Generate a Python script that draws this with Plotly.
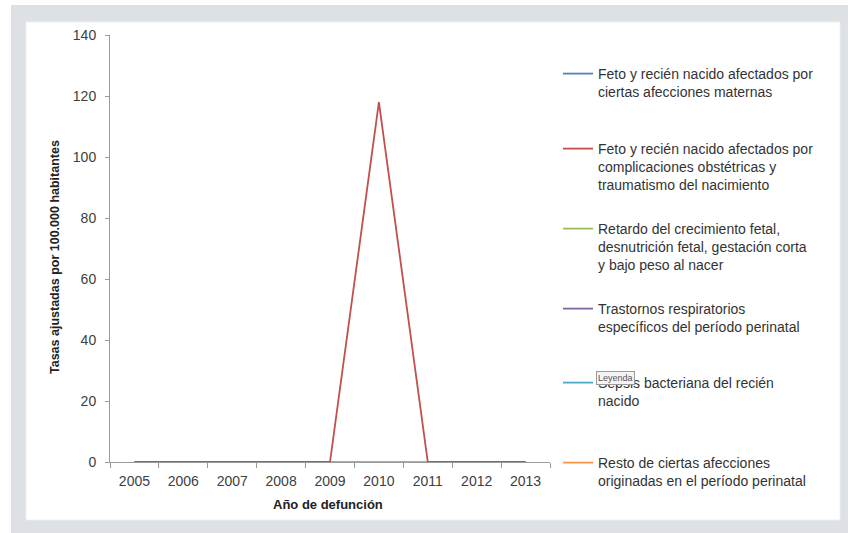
import plotly.graph_objects as go

years = ["2005", "2006", "2007", "2008", "2009", "2010", "2011", "2012", "2013"]
series_names = [
    "Feto y recién nacido afectados por<br>ciertas afecciones maternas",
    "Feto y recién nacido afectados por<br>complicaciones obstétricas y<br>traumatismo del nacimiento",
    "Retardo del crecimiento fetal,<br>desnutrición fetal, gestación corta<br>y bajo peso al nacer",
    "Trastornos respiratorios<br>específicos del período perinatal",
    "Sepsis bacteriana del recién<br>nacido",
    "Resto de ciertas afecciones<br>originadas en el período perinatal",
]
s1 = [0, 0, 0, 0, 0, 0, 0, 0, 0]
s2 = [0, 0, 0, 0, 0, 118, 0, 0, 0]
s3 = [0, 0, 0, 0, 0, 0, 0, 0, 0]
s4 = [0, 0, 0, 0, 0, 0, 0, 0, 0]
s5 = [0, 0, 0, 0, 0, 0, 0, 0, 0]
s6 = [0, 0, 0, 0, 0, 0, 0, 0, 0]
values = [s1, s2, s3, s4, s5, s6]
colors = ["#4F81BD", "#C0504D", "#9BBB59", "#8064A2", "#4BACC6", "#F79646"]
legend_line_y = [73, 148, 228, 308, 382, 462]  # pixel y of first legend text line

W, H = 848, 533
L, R, T, B = 110, 550, 35, 462  # plot area in pixels
def px_x(px):
    return (px - L) / (R - L)
def px_y(py):
    return (B - py) / (B - T)

FONT = "Liberation Sans, Arial, sans-serif"
fig = go.Figure()

order = [0, 2, 3, 4, 5, 1]  # draw red last so it is on top
for i in order:
    lg = "legend" if i == 0 else f"legend{i+1}"
    fig.add_trace(go.Scatter(
        x=years, y=values[i], mode="lines", name=series_names[i],
        line=dict(color=colors[i], width=1.8), legend=lg, showlegend=True,
    ))

legends = {}
for i in range(6):
    key = "legend" if i == 0 else f"legend{i+1}"
    legends[key] = dict(
        x=px_x(558), y=px_y(legend_line_y[i] - 15), xanchor="left", yanchor="top",
        bgcolor="rgba(0,0,0,0)", borderwidth=0, valign="top",
        font=dict(family=FONT, size=14, color="#333333"),
        itemwidth=30, tracegroupgap=0,
    )

shapes = [
    dict(type="rect", xref="paper", yref="paper", x0=px_x(11), x1=px_x(W + 5),
         y0=px_y(5), y1=px_y(H + 5), fillcolor="#dde0e5", line=dict(width=0), layer="below"),
    dict(type="rect", xref="paper", yref="paper", x0=px_x(26), x1=px_x(840),
         y0=px_y(22), y1=px_y(520), fillcolor="#ffffff", line=dict(color="#eef0f2", width=1), layer="below"),
]

annotations = [
    dict(text="<b>Tasas ajustadas por 100.000 habitantes</b>", xref="paper", yref="paper",
         x=px_x(55), y=px_y(257), textangle=-90, showarrow=False,
         font=dict(family=FONT, size=12.5, color="#222222"), xanchor="center", yanchor="middle"),
    dict(text="<b>Año de defunción</b>", xref="paper", yref="paper",
         x=px_x(328), y=px_y(504), showarrow=False,
         font=dict(family=FONT, size=13, color="#222222"), xanchor="center", yanchor="middle"),
    dict(text="Leyenda", xref="paper", yref="paper", x=px_x(596), y=px_y(378),
         showarrow=False, xanchor="left", yanchor="middle",
         font=dict(family=FONT, size=9, color="#555555"),
         bgcolor="#f4f4f4", bordercolor="#9a9a9a", borderwidth=1, borderpad=1),
]

fig.update_layout(
    width=W, height=H,
    margin=dict(l=L, r=W - R, t=T, b=H - B, pad=0),
    paper_bgcolor="white", plot_bgcolor="rgba(0,0,0,0)",
    font=dict(family=FONT, size=14, color="#404040"),
    shapes=shapes, annotations=annotations,
    **legends,
)
fig.update_xaxes(
    type="category", categoryorder="array", categoryarray=years,
    range=[-0.5, 8.5], tickson="boundaries", ticks="outside", ticklen=5,
    tickcolor="#9a9a9a", showline=True, linecolor="#9a9a9a", linewidth=1,
    showgrid=False, zeroline=False, tickfont=dict(family=FONT, size=14, color="#404040"),
    ticklabelstandoff=6,
)
fig.update_yaxes(
    range=[0, 140], dtick=20, ticks="outside", ticklen=4, tickcolor="#9a9a9a",
    showline=True, linecolor="#9a9a9a", linewidth=1, showgrid=False, zeroline=False,
    tickfont=dict(family=FONT, size=14, color="#404040"), ticklabelstandoff=6,
)

fig.write_html("out.html")
